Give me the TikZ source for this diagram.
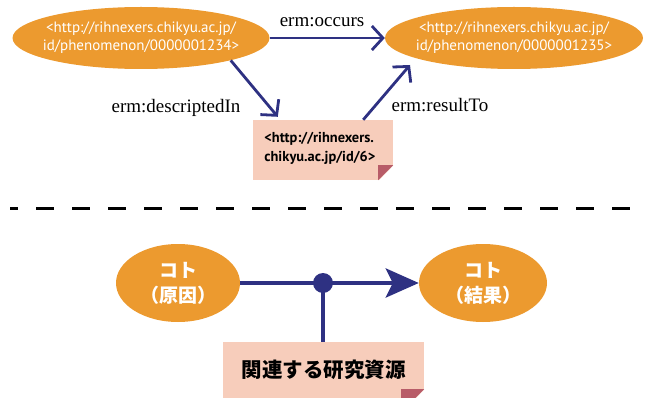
\documentclass[tikz,border=0pt]{standalone}
\usepackage{fontspec}
\setmainfont{Liberation Serif}
\newfontfamily\ptsans{PT Sans}
\newfontfamily\jpfont{Noto Sans CJK JP}
\usetikzlibrary{arrows.meta,calc,shapes.geometric}
\definecolor{orng}{HTML}{EC9A2F}
\definecolor{pnk}{HTML}{F7CDBB}
\definecolor{fold}{HTML}{B85C68}
\definecolor{navy}{HTML}{2E3182}
\tikzset{
  ev/.style={ellipse, fill=orng, inner sep=0pt},
  evtext/.style={text=white, align=center, font=\ptsans\fontsize{15}{18}\selectfont},
  jptext/.style={text=white, align=center, font=\jpfont\bfseries\fontsize{19}{25}\selectfont},
  notebox/.style={rectangle, fill=pnk, inner sep=0pt},
  lbl/.style={anchor=base, font=\fontsize{19}{22}\selectfont},
  thinarr/.style={draw=navy, line width=2.8pt, -{Straight Barb[length=11pt,width=24pt]}},
  thickarr/.style={draw=navy, line width=4.5pt, -{Stealth[length=33pt,width=29pt,inset=7pt]}},
}
\begin{document}
\begin{tikzpicture}[x=1pt,y=-1pt]
\useasboundingbox (0,0) rectangle (645,398);
% top part
\node[ev, minimum width=257pt, minimum height=62pt] (L) at (141,38) {};
\node[evtext] (Lt) at (L.center) {<http://rihnexers.chikyu.ac.jp/\\id/phenomenon/0000001234>};
\node[ev, minimum width=258pt, minimum height=62pt] (R) at (514,38) {};
\node[evtext] (Rt) at (R.center) {<http://rihnexers.chikyu.ac.jp/\\id/phenomenon/0000001235>};
\node[notebox, minimum width=140pt, minimum height=60pt] (note) at (323,150) {};
\fill[white] ($(note.south east)+(0.5,-15)$) -- ($(note.south east)+(0.5,1)$) -- ($(note.south east)+(-15,1)$) -- cycle;
\fill[fold] ($(note.south east)+(0,-15)$) -- ($(note.south east)+(-15,-15)$) -- ($(note.south east)+(-15,0)$) -- cycle;
\node[anchor=west, align=left, font=\ptsans\bfseries\fontsize{14.4}{19}\selectfont] (nt) at ($(note.west)+(8,-2)$) {<http://rihnexers.\\chikyu.ac.jp/id/6>};
\coordinate (rt) at (410,65);
\draw[thinarr] (L.east) -- (L.east -| R.west);
\draw[thinarr] (L.-14.5) -- ($(note.north west)+(25,-3)$);
\draw[thinarr] ($(note.north east)+(-30,0)$) -- (rt);
\node[lbl] (l1) at (322,27) {erm:occurs};
\node[lbl] (l2) at (176,113) {erm:descriptedIn};
\node[lbl] (l3) at (440,112) {erm:resultTo};
% dashed separator
\draw[line width=3pt, dash pattern=on 18pt off 18pt, dash phase=10pt] (10,209) -- (640,209);
% bottom part
\node[ev, minimum width=124pt, minimum height=78pt] (BL) at (178,283) {};
\node[jptext] at (BL.center) {コト\\（原因）};
\node[ev, minimum width=128pt, minimum height=78pt] (BR) at (483,283) {};
\node[jptext] at (BR.center) {コト\\（結果）};
\node[notebox, minimum width=201pt, minimum height=70pt] (bnote) at (323.5,377) {};
\fill[white] ($(bnote.south east)+(0.5,-23)$) -- ($(bnote.south east)+(0.5,1)$) -- ($(bnote.south east)+(-23,1)$) -- cycle;
\fill[fold] ($(bnote.south east)+(0,-23)$) -- ($(bnote.south east)+(-23,-23)$) -- ($(bnote.south east)+(-23,0)$) -- cycle;
\node[font=\jpfont\bfseries\fontsize{20.5}{24}\selectfont] (bt) at ($(bnote.center)+(0,-7)$) {関連する研究資源};
\draw[thickarr] (BL.east) -- (BR.west);
\node[circle, fill=navy, minimum size=20pt, inner sep=0pt] (dot) at (323,283) {};
\draw[navy, line width=4.5pt] (dot.center) -- (dot.center |- bnote.north);
\end{tikzpicture}
\end{document}
